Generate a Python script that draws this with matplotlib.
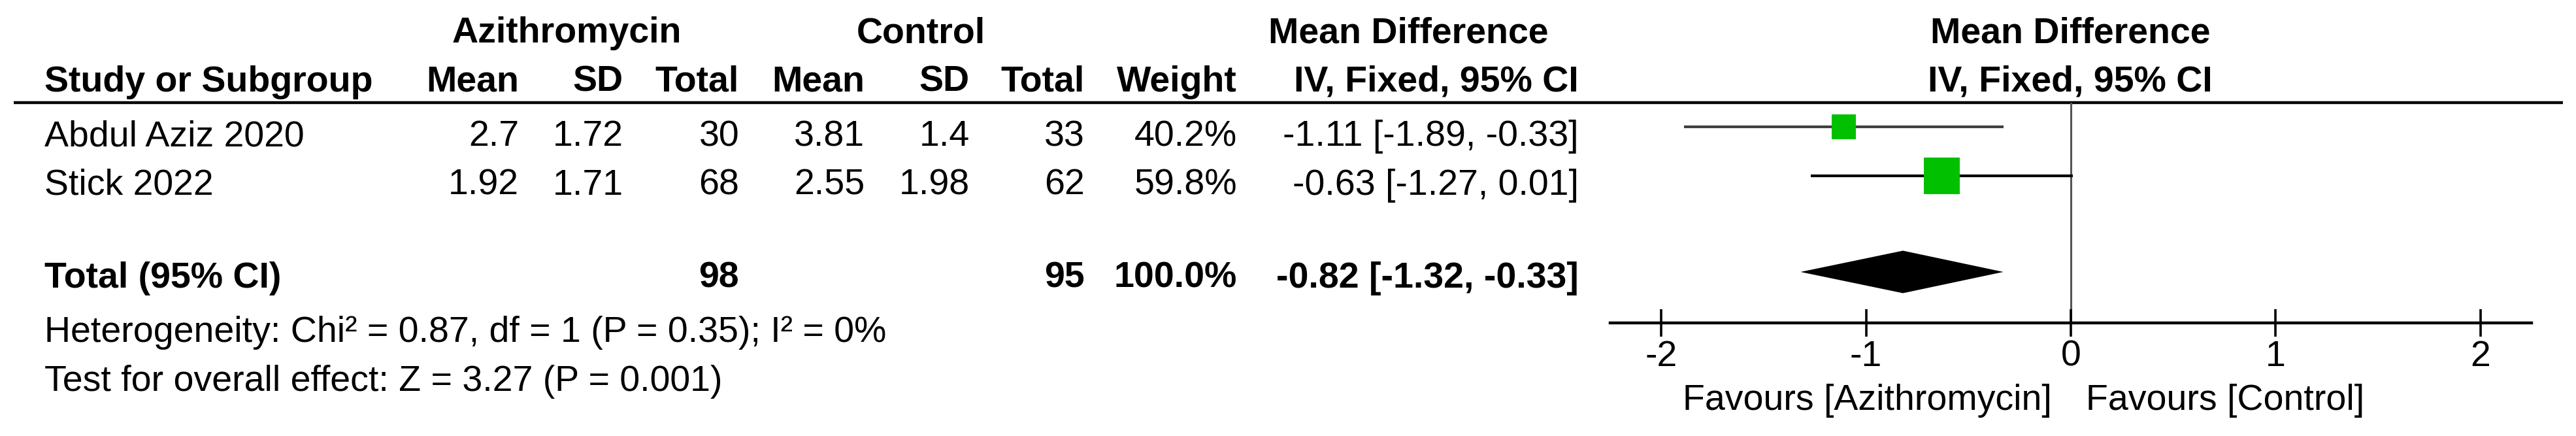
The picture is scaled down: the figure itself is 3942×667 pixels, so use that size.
import matplotlib
matplotlib.use("Agg")
import matplotlib.pyplot as plt

plt.rcParams["font.family"] = ["Liberation Sans", "DejaVu Sans"]

# data
studies = ["Abdul Aziz 2020", "Stick 2022"]
azi_mean = [2.7, 1.92]
azi_sd = [1.72, 1.71]
azi_n = [30, 68]
ctl_mean = [3.81, 2.55]
ctl_sd = [1.4, 1.98]
ctl_n = [33, 62]
weight = [40.2, 59.8]
md = [-1.11, -0.63]
md_lo = [-1.89, -1.27]
md_hi = [-0.33, 0.01]

total_azi = 98
total_ctl = 95
total_weight = 100.0
total_md = -0.82
total_lo = -1.32
total_hi = -0.33

heterogeneity = "Heterogeneity: Chi² = 0.87, df = 1 (P = 0.35); I² = 0%"
overall = "Test for overall effect: Z = 3.27 (P = 0.001)"
xticks = [-2, -1, 0, 1, 2]
fav_left = "Favours [Azithromycin]"
fav_right = "Favours [Control]"

W, H = 3942, 667
fig = plt.figure(figsize=(W / 100, H / 100), dpi=100)
fs = 40

# table part, pixel coordinates
tb = fig.add_axes([0, 0, 1, 1])
tb.set_xlim(0, W)
tb.set_ylim(H, 0)
tb.axis("off")

def txt(x, y, s, ha="right", bold=False):
    tb.text(x, y, s, ha=ha, va="baseline", fontsize=fs,
            fontweight="bold" if bold else "normal", color="black")

# column right edges
c_am, c_asd, c_an = 794, 954, 1131
c_cm, c_csd, c_cn = 1323, 1484, 1660
c_w, c_md = 1893, 2416
x_left = 68

# headers
txt(867, 65, "Azithromycin", ha="center", bold=True)
txt(1409, 65, "Control", ha="center", bold=True)
txt(2155, 65, "Mean Difference", ha="center", bold=True)
txt(3168, 65, "Mean Difference", ha="center", bold=True)
txt(x_left, 140, "Study or Subgroup", ha="left", bold=True)
for x, s in [(c_am, "Mean"), (c_asd, "SD"), (c_an, "Total"),
             (c_cm, "Mean"), (c_csd, "SD"), (c_cn, "Total"),
             (c_w, "Weight"), (c_md, "IV, Fixed, 95% CI")]:
    txt(x, 140, s, bold=True)
txt(3168, 140, "IV, Fixed, 95% CI", ha="center", bold=True)
tb.plot([21, 3922], [157, 157], color="black", lw=3.2, solid_capstyle="butt")

# study rows
row_base = [223, 298]
for i, name in enumerate(studies):
    y = row_base[i]
    txt(x_left, y, name, ha="left")
    txt(c_am, y, f"{azi_mean[i]:g}")
    txt(c_asd, y, f"{azi_sd[i]:g}")
    txt(c_an, y, str(azi_n[i]))
    txt(c_cm, y, f"{ctl_mean[i]:g}")
    txt(c_csd, y, f"{ctl_sd[i]:g}")
    txt(c_cn, y, str(ctl_n[i]))
    txt(c_w, y, f"{weight[i]:.1f}%")
    txt(c_md, y, f"{md[i]:.2f} [{md_lo[i]:.2f}, {md_hi[i]:.2f}]")

# total row
txt(x_left, 440, "Total (95% CI)", ha="left", bold=True)
txt(c_an, 440, str(total_azi), bold=True)
txt(c_cn, 440, str(total_ctl), bold=True)
txt(c_w, 440, f"{total_weight:.1f}%", bold=True)
txt(c_md, 440, f"{total_md:.2f} [{total_lo:.2f}, {total_hi:.2f}]", bold=True)
txt(x_left, 523, heterogeneity, ha="left")
txt(x_left, 598, overall, ha="left")

txt(3140, 627, fav_left)
txt(3192, 627, fav_right, ha="left")

# forest plot
ax_l, ax_r = 2464, 3874
ax_top, ax_bot = 157, 494
ax = fig.add_axes([ax_l / W, 1 - ax_bot / H, (ax_r - ax_l) / W, (ax_bot - ax_top) / H])
ax.patch.set_alpha(0)
ax.set_xlim(-2.25, 2.25)
row_y = [0, 1]
total_y = 2.96
ax.set_ylim(4.0, -0.493)

ax.axvline(0, color="#555555", lw=2.2, zorder=1)
ci_colors = ["#404040", "black"]
for i in range(len(studies)):
    ax.hlines(row_y[i], md_lo[i], md_hi[i], color=ci_colors[i], lw=3.0, zorder=2)
side_pt = [w * 0.93 / 1.389 for w in weight]
ax.scatter(md, row_y, marker="s", s=[s ** 2 for s in side_pt], color="#00c000",
           edgecolors="none", zorder=3)
ax.fill([total_lo, total_md, total_hi, total_md],
        [total_y, total_y - 0.433, total_y, total_y + 0.433],
        color="black", lw=0, zorder=3)

for sp in ["top", "left", "right"]:
    ax.spines[sp].set_visible(False)
ax.spines["bottom"].set_linewidth(3.2)
ax.set_yticks([])
ax.set_xticks(xticks)
ax.set_xticklabels([str(t) for t in xticks])
ax.tick_params(axis="x", direction="inout", length=30, width=2.6, pad=3.6,
               labelsize=fs, color="black")

fig.savefig("out.png", dpi=100, facecolor="white")
